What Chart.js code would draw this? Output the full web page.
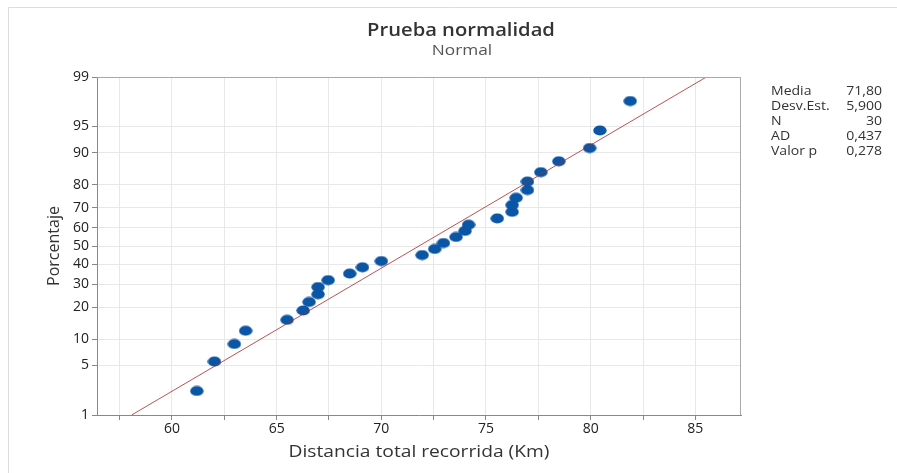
<!DOCTYPE html>
<html>
<head>
<meta charset="utf-8">
<script src="https://cdn.jsdelivr.net/npm/chart.js@4/dist/chart.umd.min.js"></script>
<style>
  html, body { margin: 0; padding: 0; background: #fff; }
  #wrap { width: 897px; height: 473px; }
</style>
</head>
<body>
<div id="wrap"><canvas id="myChart" width="897" height="473"></canvas></div>
<script>
// distancias ordenadas (Km)
const distancias = [61.19, 62.03, 62.98, 63.52, 65.50, 66.27, 66.55, 66.98, 66.98, 67.46,
                    68.49, 69.10, 70.00, 71.95, 72.55, 72.97, 73.57, 74.00, 74.17, 75.54,
                    76.25, 76.25, 76.44, 76.98, 76.98, 77.62, 78.48, 79.95, 80.44, 81.89]
// porcentajes (rangos medianos) de cada punto
const porcentajes = [2.30, 5.59, 8.88, 12.17, 15.46, 18.75, 22.04, 25.33, 28.62, 31.91,
                     35.20, 38.49, 41.78, 45.07, 48.36, 51.64, 54.93, 58.22, 61.51, 64.80,
                     68.09, 71.38, 74.67, 77.96, 81.25, 84.54, 87.83, 91.12, 94.41, 97.70]
const ticksPorcentaje = [1, 5, 10, 20, 30, 40, 50, 60, 70, 80, 90, 95, 99]
const ticksDistancia = [57.5, 60, 62.5, 65, 67.5, 70, 72.5, 75, 77.5, 80, 82.5, 85]
const statNombres = ['Media', 'Desv.Est.', 'N', 'AD', 'Valor p']
const statValores = ['71,80', '5,900', '30', '0,437', '0,278']
const media = 71.80
const desvEst = 5.900

// inversa de la normal (Acklam)
function probit(p) {
  const a = [-39.69683028665376, 220.9460984245205, -275.9285104469687, 138.3577518672690, -30.66479806614716, 2.506628277459239]
  const b = [-54.47609879822406, 161.5858368580409, -155.6989798598866, 66.80131188771972, -13.28068155288572]
  const c = [-0.007784894002430293, -0.3223964580411365, -2.400758277161838, -2.549732539343734, 4.374664141464968, 2.938163982698783]
  const d = [0.007784695709041462, 0.3224671290700398, 2.445134137142996, 3.754408661907416]
  const pl = 0.02425
  let q, r
  if (p < pl) {
    q = Math.sqrt(-2 * Math.log(p))
    return (((((c[0]*q+c[1])*q+c[2])*q+c[3])*q+c[4])*q+c[5]) / ((((d[0]*q+d[1])*q+d[2])*q+d[3])*q+1)
  }
  if (p > 1 - pl) {
    q = Math.sqrt(-2 * Math.log(1 - p))
    return -(((((c[0]*q+c[1])*q+c[2])*q+c[3])*q+c[4])*q+c[5]) / ((((d[0]*q+d[1])*q+d[2])*q+d[3])*q+1)
  }
  q = p - 0.5
  r = q * q
  return (((((a[0]*r+a[1])*r+a[2])*r+a[3])*r+a[4])*r+a[5])*q / (((((b[0]*r+b[1])*r+b[2])*r+b[3])*r+b[4])*r+1)
}

const zMin = probit(0.01)
const zMax = probit(0.99)
const puntos = distancias.map((x, i) => ({ x: x, y: probit(porcentajes[i] / 100) }))
const recta = [
  { x: media + zMin * desvEst, y: zMin },
  { x: media + zMax * desvEst, y: zMax }
]

const FONT = "'Open Sans', 'Noto Sans', sans-serif"

// punto elíptico (la imagen original está estirada en horizontal)
const punto = document.createElement('canvas')
punto.width = 14
punto.height = 11
{
  const pc = punto.getContext('2d')
  pc.fillStyle = '#0b55a5'
  pc.beginPath()
  pc.ellipse(7, 5.5, 6.7, 5.1, 0, 0, Math.PI * 2)
  pc.fill()
}

// texto con escala horizontal
function texto(ctx, str, x, y, font, sx, align) {
  ctx.save()
  ctx.font = font
  ctx.textAlign = align || 'center'
  ctx.translate(x, y)
  ctx.scale(sx, 1)
  ctx.fillText(str, 0, 0)
  ctx.restore()
}

const textos = {
  id: 'textos',
  afterDraw(chart) {
    const ctx = chart.ctx
    const a = chart.chartArea
    ctx.save()
    // marco exterior
    ctx.strokeStyle = '#dcdcdc'
    ctx.lineWidth = 1
    ctx.beginPath()
    ctx.moveTo(8.5, 473)
    ctx.lineTo(8.5, 7.5)
    ctx.lineTo(897, 7.5)
    ctx.stroke()
    // bordes superior y derecho del área
    ctx.strokeStyle = '#a8a8a8'
    ctx.beginPath()
    ctx.moveTo(a.left, a.top + 0.5)
    ctx.lineTo(a.right - 0.5, a.top + 0.5)
    ctx.lineTo(a.right - 0.5, a.bottom)
    ctx.stroke()

    ctx.textBaseline = 'middle'
    ctx.fillStyle = '#333'
    texto(ctx, 'Prueba normalidad', 461, 31, '600 18px ' + FONT, 1.12)
    ctx.fillStyle = '#555'
    texto(ctx, 'Normal', 462, 51, '15px ' + FONT, 1.15)

    ctx.fillStyle = '#333'
    texto(ctx, 'Distancia total recorrida (Km)', (a.left + a.right) / 2, 452, '16px ' + FONT, 1.2)
    ctx.save()
    ctx.translate(54, 246)
    ctx.rotate(-Math.PI / 2)
    ctx.font = '16px ' + FONT
    ctx.textAlign = 'center'
    ctx.fillText('Porcentaje', 0, 0)
    ctx.restore()

    statNombres.forEach((n, i) => {
      const y = 91 + i * 15
      texto(ctx, n, 771, y, '13px ' + FONT, 1.08, 'left')
      texto(ctx, statValores[i], 882, y, '13px ' + FONT, 1.08, 'right')
    })
    ctx.restore()
  }
}

new Chart(document.getElementById('myChart'), {
  type: 'scatter',
  data: {
    datasets: [
      {
        data: puntos,
        pointStyle: punto,
        backgroundColor: '#0b55a5',
        borderColor: '#0b55a5',
        pointRadius: 6,
        pointHoverRadius: 6,
        order: 1
      },
      {
        type: 'line',
        data: recta,
        borderColor: 'rgba(168, 40, 40, 0.8)',
        borderWidth: 1,
        pointRadius: 0,
        fill: false,
        order: 0
      }
    ]
  },
  options: {
    responsive: false,
    animation: false,
    layout: { padding: { top: 77, right: 156, left: 0, bottom: 0 } },
    plugins: {
      legend: { display: false },
      tooltip: { enabled: false }
    },
    scales: {
      x: {
        type: 'linear',
        min: 56.42,
        max: 87.18,
        afterFit: s => { s.height = 58 },
        afterBuildTicks: s => { s.ticks = ticksDistancia.map(v => ({ value: v })) },
        grid: { color: '#e8e8e8', tickColor: '#888', tickLength: 5 },
        border: { color: '#888' },
        ticks: {
          color: '#222',
          font: { family: FONT, size: 14 },
          padding: 1,
          maxRotation: 0,
          autoSkip: false,
          callback: v => (v % 5 === 0 ? String(v) : '')
        }
      },
      y: {
        type: 'linear',
        min: zMin,
        max: zMax,
        afterFit: s => { s.width = 97 },
        afterBuildTicks: s => { s.ticks = ticksPorcentaje.map(p => ({ value: probit(p / 100) })) },
        grid: { color: '#e8e8e8', tickColor: '#888', tickLength: 5 },
        border: { color: '#888' },
        ticks: {
          color: '#222',
          font: { family: FONT, size: 14 },
          padding: 3,
          autoSkip: false,
          callback: (v, i) => String(ticksPorcentaje[i])
        }
      }
    }
  },
  plugins: [textos]
})
</script>
</body>
</html>
